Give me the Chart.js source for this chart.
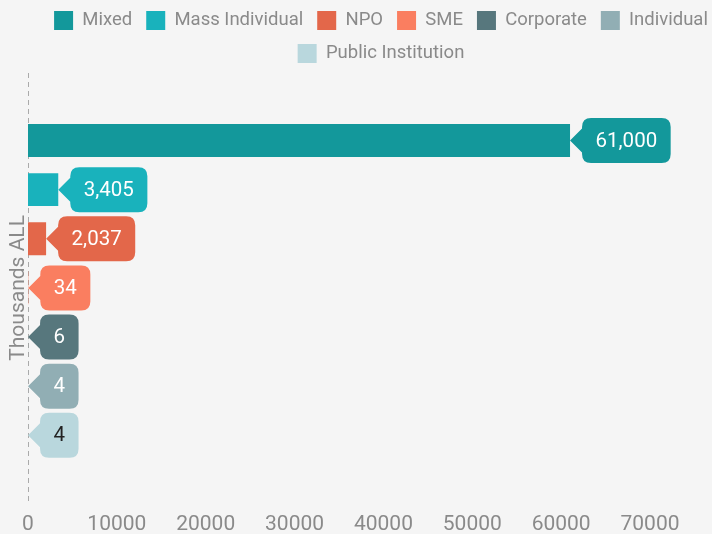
<!DOCTYPE html>
<html>
<head>
<meta charset="utf-8">
<script src="https://cdn.jsdelivr.net/npm/chart.js@4.4.1/dist/chart.umd.min.js"></script>
<style>
  html, body { margin: 0; padding: 0; background: #f5f5f5; }
  #wrap { width: 712px; height: 534px; }
</style>
</head>
<body>
<div id="wrap"><canvas id="portfolio-chart" width="712" height="534"></canvas></div>
<script>
const categories = [""];
const segmentNames = ["Mixed", "Mass Individual", "NPO", "SME", "Corporate", "Individual", "Public Institution"];
const segmentValues = [61000, 3405, 2037, 34, 6, 4, 4];
const segmentColours = ["#13989b", "#19b2bc", "#e3674a", "#fa7e60", "#57777d", "#91aeb4", "#b9d7dd"];
const labelTextColours = ["#ffffff", "#ffffff", "#ffffff", "#ffffff", "#ffffff", "#ffffff", "#222222"];
const xTicks = [0, 10000, 20000, 30000, 40000, 50000, 60000, 70000];

const fontFamily = "Roboto, 'Open Sans', sans-serif";

//one dataset per segment so each gets its own legend entry
let datasets = segmentNames.map(function (name, i) {
  return {
    label: name,
    data: [segmentValues[i]],
    backgroundColor: segmentColours[i],
    borderWidth: 0,
    barPercentage: 0.67,
    categoryPercentage: 0.8
  };
});

//dashed zero line along the left edge of the plot
const zeroLine = {
  id: "zeroLine",
  beforeDatasetsDraw: function (chart) {
    const ctx = chart.ctx;
    const x = Math.round(chart.scales.x.getPixelForValue(0)) + 0.5;
    ctx.save();
    ctx.strokeStyle = "#aaaaaa";
    ctx.lineWidth = 1;
    ctx.setLineDash([5, 4]);
    ctx.beginPath();
    ctx.moveTo(x, chart.chartArea.top);
    ctx.lineTo(x, chart.chartArea.bottom);
    ctx.stroke();
    ctx.restore();
  }
};

//speech-bubble labels pointing at the end of every bar
const calloutLabels = {
  id: "calloutLabels",
  afterDatasetsDraw: function (chart) {
    const ctx = chart.ctx;
    ctx.save();
    ctx.font = "20.5px " + fontFamily;
    ctx.textBaseline = "middle";
    ctx.textAlign = "center";
    chart.data.datasets.forEach((ds, i) => {
      const bar = chart.getDatasetMeta(i).data[0];
      if (!bar) return;
      const text = Number(ds.data[0]).toLocaleString("en-US");
      const tipX = bar.x;
      const y = bar.y;
      const boxH = 45;
      const boxW = ctx.measureText(text).width + 27;
      const left = tipX + 12;
      const top = y - boxH / 2;
      const r = 9;
      ctx.fillStyle = ds.backgroundColor;
      ctx.beginPath();
      ctx.moveTo(left + r, top);
      ctx.lineTo(left + boxW - r, top);
      ctx.quadraticCurveTo(left + boxW, top, left + boxW, top + r);
      ctx.lineTo(left + boxW, top + boxH - r);
      ctx.quadraticCurveTo(left + boxW, top + boxH, left + boxW - r, top + boxH);
      ctx.lineTo(left + r, top + boxH);
      ctx.quadraticCurveTo(left, top + boxH, left, top + boxH - r);
      ctx.lineTo(left, y + 12);
      ctx.lineTo(tipX, y);
      ctx.lineTo(left, y - 12);
      ctx.lineTo(left, top + r);
      ctx.quadraticCurveTo(left, top, left + r, top);
      ctx.closePath();
      ctx.fill();
      ctx.fillStyle = labelTextColours[i];
      ctx.fillText(text, left + boxW / 2, y + 1);
    });
    ctx.restore();
  }
};

//let the first legend row hold six entries and sit right of centre
const legendPlacement = {
  id: "legendPlacement",
  afterLayout: function (chart) {
    const legend = chart.legend;
    if (!legend) return;
    legend.maxWidth = 740;
    legend.fit();
    legend.left = 32;
    legend.right = 730;
  }
};

const chartBox = document.getElementById("portfolio-chart");
const chart = new Chart(chartBox, {
  type: "bar",
  data: {
    labels: categories,
    datasets: datasets
  },
  options: {
    indexAxis: "y",
    responsive: false,
    animation: false,
    devicePixelRatio: 1,
    layout: {
      padding: { left: 0, right: 62, top: -3, bottom: -13 }
    },
    plugins: {
      legend: {
        position: "top",
        labels: {
          boxWidth: 19,
          boxHeight: 19,
          padding: 14,
          color: "#8a8a8a",
          font: { family: fontFamily, size: 18.5 }
        }
      },
      tooltip: { enabled: false }
    },
    scales: {
      x: {
        min: 0,
        max: 70000,
        afterBuildTicks: function (scale) {
          scale.ticks = xTicks.map(v => ({ value: v }));
        },
        grid: { display: false, drawTicks: false },
        border: { display: false },
        ticks: {
          color: "#8a8a8a",
          padding: 9.5,
          font: { family: fontFamily, size: 21 },
          maxRotation: 0,
          callback: function (value) { return String(value); }
        }
      },
      y: {
        grid: { display: false },
        border: { display: false },
        ticks: { display: false },
        title: {
          display: true,
          text: "Thousands ALL",
          color: "#8a8a8a",
          font: { family: fontFamily, size: 21 },
          padding: { top: 6, bottom: 0 }
        },
        afterFit: function (scale) {
          scale.width = 28;
        }
      }
    }
  },
  plugins: [zeroLine, calloutLabels, legendPlacement]
});
</script>
</body>
</html>
